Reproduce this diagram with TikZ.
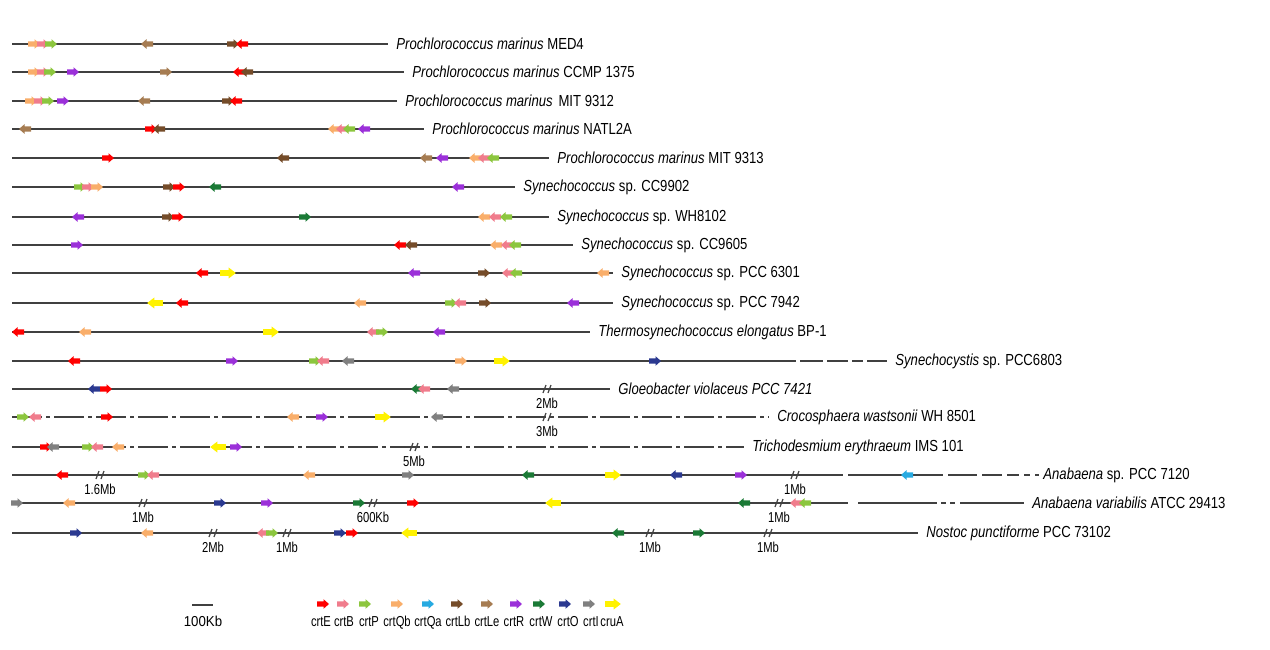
\documentclass[tikz,border=0pt]{standalone}
\usepackage{fontspec}
\setmainfont{Liberation Sans}
\usepackage{graphicx}

\definecolor{cE}{HTML}{FF0000}
\definecolor{cB}{HTML}{F07C8C}
\definecolor{cP}{HTML}{8CC63E}
\definecolor{cQb}{HTML}{F9AE6A}
\definecolor{cQa}{HTML}{27AAE1}
\definecolor{cLb}{HTML}{754C29}
\definecolor{cLe}{HTML}{A67C52}
\definecolor{cR}{HTML}{9B30D9}
\definecolor{cW}{HTML}{1B7A36}
\definecolor{cO}{HTML}{2B3990}
\definecolor{cI}{HTML}{808080}
\definecolor{cA}{HTML}{FFF200}

% gene arrow: x, y, colour, direction (1 right, -1 left)
\newcommand\gene[4]{\fill[#3, shift={(#1,#2)}, xscale=#4] (-6,-2.6) -- (0.5,-2.6) -- (0.5,-4.8) -- (6,0) -- (0.5,4.8) -- (0.5,2.6) -- (-6,2.6) -- cycle;}
\newcommand\crua[3]{\fill[cA, shift={(#1,#2)}, xscale=#3*1.3, yscale=1.15] (-6,-2.6) -- (0.5,-2.6) -- (0.5,-4.8) -- (6,0) -- (0.5,4.8) -- (0.5,2.6) -- (-6,2.6) -- cycle;}
% break mark: x, y, label, name
\newcommand\brk[4]{\draw[black!75, line width=0.6pt] (#1-4,#2+4) -- (#1-1,#2-4) (#1+1,#2+4) -- (#1+4,#2-4);
  \node[tick] (#4) at (#1,#2+19) {\narrow{#3}};}
\newcommand\sname[2]{\scalebox{0.82}[1]{\textit{#1} #2}}
\newcommand\narrow[1]{\scalebox{0.78}[1]{#1}}

\tikzset{
  genome/.style={draw=black!75, line width=0.8pt},
  dashdot/.style={genome, dash pattern=on 15pt off 2pt on 2pt off 2pt},
  species/.style={anchor=west, inner sep=0pt, font=\fontsize{8pt}{9pt}\selectfont},
  tick/.style={anchor=base, inner sep=0pt, font=\fontsize{7.2pt}{8pt}\selectfont}
}

\begin{document}
\begin{tikzpicture}[x=0.5pt, y=-0.5pt]
  \useasboundingbox (0,0) rectangle (1270,649);

  % species labels and chromosome lines
  \node[species] (med4) at (396,44) {\sname{Prochlorococcus marinus}{MED4}};
  \draw[genome] (12,44) -- ([xshift=-4pt]med4.west);
  \node[species] (ccmp) at (412,72) {\sname{Prochlorococcus marinus}{CCMP 1375}};
  \draw[genome] (12,72) -- ([xshift=-4pt]ccmp.west);
  \node[species] (mit9312) at (405,101) {\sname{Prochlorococcus marinus\,}{MIT 9312}};
  \draw[genome] (12,101) -- ([xshift=-4pt]mit9312.west);
  \node[species] (natl) at (432,129) {\sname{Prochlorococcus marinus}{NATL2A}};
  \draw[genome] (12,129) -- ([xshift=-4pt]natl.west);
  \node[species] (mit9313) at (557,158) {\sname{Prochlorococcus marinus}{MIT 9313}};
  \draw[genome] (12,158) -- ([xshift=-4pt]mit9313.west);
  \node[species] (cc9902) at (523,187) {\sname{Synechococcus}{sp. CC9902}};
  \draw[genome] (12,187) -- ([xshift=-4pt]cc9902.west);
  \node[species] (wh8102) at (557,217) {\sname{Synechococcus}{sp. WH8102}};
  \draw[genome] (12,217) -- ([xshift=-4pt]wh8102.west);
  \node[species] (cc9605) at (581,245) {\sname{Synechococcus}{sp. CC9605}};
  \draw[genome] (12,245) -- ([xshift=-4pt]cc9605.west);
  \node[species] (pcc6301) at (621,273) {\sname{Synechococcus}{sp. PCC 6301}};
  \draw[genome] (12,273) -- ([xshift=-4pt]pcc6301.west);
  \node[species] (pcc7942) at (621,303) {\sname{Synechococcus}{sp. PCC 7942}};
  \draw[genome] (12,303) -- ([xshift=-4pt]pcc7942.west);
  \node[species] (bp1) at (598,332) {\sname{Thermosynechococcus elongatus}{BP-1}};
  \draw[genome] (12,332) -- ([xshift=-4pt]bp1.west);
  \node[species] (pcc6803) at (895,361) {\sname{Synechocystis}{sp. PCC6803}};
  \draw[genome] (12,361) -- (796,361) (800,361) -- (823,361) (827,361) -- (848,361)
    (852,361) -- (863,361) (867,361) -- ([xshift=-4pt]pcc6803.west);
  \node[species] (pcc7421) at (618,389) {\sname{Gloeobacter violaceus PCC 7421}{}};
  \draw[genome] (12,389) -- ([xshift=-4pt]pcc7421.west);
  \node[species] (wh8501) at (777,417) {\sname{Crocosphaera wastsonii}{WH 8501}};
  \draw[dashdot] (12,417) -- ([xshift=-4pt]wh8501.west);
  \node[species] (ims101) at (752,447) {\sname{Trichodesmium erythraeum}{IMS 101}};
  \draw[dashdot] (12,447) -- ([xshift=-4pt]ims101.west);
  \node[species] (pcc7120) at (1043,475) {\sname{Anabaena}{sp. PCC 7120}};
  \draw[genome] (12,475) -- (843,475) (848,475) -- (943,475) (948,475) -- (977,475)
    (982,475) -- (1002,475) (1007,475) -- (1019,475) (1024,475) -- (1030,475)
    (1035,475) -- ([xshift=-2pt]pcc7120.west);
  \node[species] (atcc) at (1032,503) {\sname{Anabaena variabilis}{ATCC 29413}};
  \draw[genome] (12,503) -- (848,503) (858,503) -- (937,503) (941,503) -- (946,503)
    (950,503) -- (955,503) (960,503) -- ([xshift=-4pt]atcc.west);
  \node[species] (pcc73102) at (926,533) {\sname{Nostoc punctiforme}{PCC 73102}};
  \draw[genome] (12,533) -- ([xshift=-4pt]pcc73102.west);

  % breaks in the chromosomes
  \brk{547}{389}{2Mb}{b13}
  \brk{547}{417}{3Mb}{b14}
  \brk{414}{447}{5Mb}{b15}
  \brk{100}{475}{1.6Mb}{b16a}
  \brk{795}{475}{1Mb}{b16b}
  \brk{143}{503}{1Mb}{b17a}
  \brk{373}{503}{600Kb}{b17b}
  \brk{779}{503}{1Mb}{b17c}
  \brk{213}{533}{2Mb}{b18a}
  \brk{287}{533}{1Mb}{b18b}
  \brk{650}{533}{1Mb}{b18c}
  \brk{768}{533}{1Mb}{b18d}

  % genes
  \gene{34}{44}{cQb}{1} \gene{43}{44}{cB}{1} \gene{51}{44}{cP}{1}
  \gene{147}{44}{cLe}{-1} \gene{233}{44}{cLb}{1} \gene{242}{44}{cE}{-1}

  \gene{34}{72}{cQb}{1} \gene{43}{72}{cB}{1} \gene{50}{72}{cP}{1} \gene{73}{72}{cR}{1}
  \gene{166}{72}{cLe}{1} \gene{239}{72}{cE}{-1} \gene{247}{72}{cLb}{-1}

  \gene{31}{101}{cQb}{1} \gene{40}{101}{cB}{1} \gene{48}{101}{cP}{1} \gene{63}{101}{cR}{1}
  \gene{144}{101}{cLe}{-1} \gene{228}{101}{cLb}{1} \gene{236}{101}{cE}{-1}

  \gene{25}{129}{cLe}{-1} \gene{151}{129}{cE}{1} \gene{159}{129}{cLb}{-1}
  \gene{334}{129}{cQb}{-1} \gene{342}{129}{cB}{-1} \gene{349}{129}{cP}{-1} \gene{364}{129}{cR}{-1}

  \gene{108}{158}{cE}{1} \gene{283}{158}{cLb}{-1} \gene{426}{158}{cLe}{-1} \gene{442}{158}{cR}{-1}
  \gene{475}{158}{cQb}{-1} \gene{484}{158}{cB}{-1} \gene{493}{158}{cP}{-1}

  \gene{80}{187}{cP}{1} \gene{88}{187}{cB}{1} \gene{97}{187}{cQb}{1} \gene{169}{187}{cLb}{1}
  \gene{179}{187}{cE}{1} \gene{215}{187}{cW}{-1} \gene{458}{187}{cR}{-1}

  \gene{78}{217}{cR}{-1} \gene{168}{217}{cLb}{1} \gene{178}{217}{cE}{1} \gene{305}{217}{cW}{1}
  \gene{484}{217}{cQb}{-1} \gene{495}{217}{cB}{-1} \gene{506}{217}{cP}{-1}

  \gene{77}{245}{cR}{1} \gene{400}{245}{cE}{-1} \gene{411}{245}{cLb}{-1}
  \gene{496}{245}{cQb}{-1} \gene{507}{245}{cB}{-1} \gene{515}{245}{cP}{-1}

  \gene{202}{273}{cE}{-1} \crua{228}{273}{1} \gene{414}{273}{cR}{-1} \gene{484}{273}{cLb}{1}
  \gene{508}{273}{cB}{-1} \gene{516}{273}{cP}{-1} \gene{603}{273}{cQb}{-1}

  \crua{155}{303}{-1} \gene{182}{303}{cE}{-1} \gene{360}{303}{cQb}{-1} \gene{451}{303}{cP}{1}
  \gene{460}{303}{cB}{-1} \gene{485}{303}{cLb}{1} \gene{573}{303}{cR}{-1}

  \gene{18}{332}{cE}{-1} \gene{85}{332}{cQb}{-1} \crua{271}{332}{1} \gene{373}{332}{cB}{-1}
  \gene{382}{332}{cP}{1} \gene{439}{332}{cR}{-1}

  \gene{74}{361}{cE}{-1} \gene{232}{361}{cR}{1} \gene{315}{361}{cP}{1} \gene{323}{361}{cB}{-1}
  \gene{348}{361}{cI}{-1} \gene{461}{361}{cQb}{1} \crua{502}{361}{1} \gene{655}{361}{cO}{1}

  \gene{94}{389}{cO}{-1} \gene{106}{389}{cE}{1} \gene{417}{389}{cW}{-1} \gene{424}{389}{cB}{-1}
  \gene{453}{389}{cI}{-1}

  \gene{23}{417}{cP}{1} \gene{35}{417}{cB}{-1} \gene{107}{417}{cE}{1} \gene{293}{417}{cQb}{-1}
  \gene{322}{417}{cR}{1} \crua{383}{417}{1} \gene{437}{417}{cI}{-1}

  \gene{46}{447}{cE}{1} \gene{53}{447}{cI}{-1} \gene{88}{447}{cP}{1} \gene{97}{447}{cB}{-1}
  \gene{118}{447}{cQb}{-1} \crua{218}{447}{-1} \gene{236}{447}{cR}{1}

  \gene{62}{475}{cE}{-1} \gene{144}{475}{cP}{1} \gene{153}{475}{cB}{-1} \gene{309}{475}{cQb}{-1}
  \gene{408}{475}{cI}{1} \gene{528}{475}{cW}{-1} \crua{613}{475}{1} \gene{676}{475}{cO}{-1}
  \gene{741}{475}{cR}{1} \gene{907}{475}{cQa}{-1}

  \gene{17}{503}{cI}{1} \gene{69}{503}{cQb}{-1} \gene{220}{503}{cO}{1} \gene{267}{503}{cR}{1}
  \gene{359}{503}{cW}{1} \gene{413}{503}{cE}{1} \crua{553}{503}{-1} \gene{744}{503}{cW}{-1}
  \gene{796}{503}{cB}{-1} \gene{805}{503}{cP}{-1}

  \gene{76}{533}{cO}{1} \gene{147}{533}{cQb}{-1} \gene{263}{533}{cB}{-1} \gene{272}{533}{cP}{1}
  \gene{340}{533}{cO}{1} \gene{352}{533}{cE}{1} \crua{409}{533}{-1} \gene{618}{533}{cW}{-1}
  \gene{699}{533}{cW}{1}

  % scale bar
  \draw[genome] (192,605) -- (213,605);
  \node[tick] (scale) at (203,626) {\scalebox{0.92}[1]{100Kb}};

  % legend
  \gene{323}{604}{cE}{1}  \node[tick] (lE) at (321,626) {\narrow{crtE}};
  \gene{343}{604}{cB}{1}  \node[tick] (lB) at (344,626) {\narrow{crtB}};
  \gene{365}{604}{cP}{1}  \node[tick] (lP) at (369,626) {\narrow{crtP}};
  \gene{397}{604}{cQb}{1} \node[tick] (lQb) at (397,626) {\narrow{crtQb}};
  \gene{428}{604}{cQa}{1} \node[tick] (lQa) at (428,626) {\narrow{crtQa}};
  \gene{457}{604}{cLb}{1} \node[tick] (lLb) at (458,626) {\narrow{crtLb}};
  \gene{487}{604}{cLe}{1} \node[tick] (lLe) at (487,626) {\narrow{crtLe}};
  \gene{516}{604}{cR}{1}  \node[tick] (lR) at (514,626) {\narrow{crtR}};
  \gene{539}{604}{cW}{1}  \node[tick] (lW) at (541,626) {\narrow{crtW}};
  \gene{565}{604}{cO}{1}  \node[tick] (lO) at (568,626) {\narrow{crtO}};
  \gene{589}{604}{cI}{1}  \node[tick] (lI) at (591,626) {\narrow{crtI}};
  \crua{613}{604}{1}      \node[tick] (lA) at (612,626) {\narrow{cruA}};
\end{tikzpicture}
\end{document}
